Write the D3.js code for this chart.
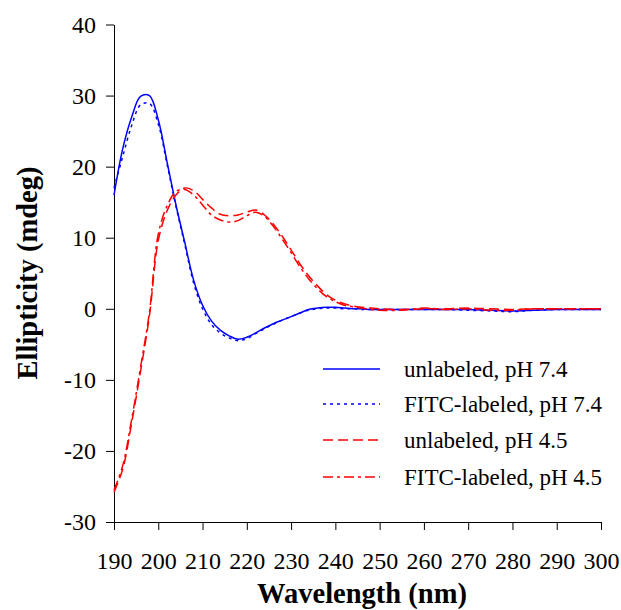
<!DOCTYPE html>
<html>
<head>
<meta charset="utf-8">
<script src="https://cdn.jsdelivr.net/npm/d3@7"></script>
<style>
  body { margin: 0; background: #fff; }
  text { font-family: "Liberation Serif", "Times New Roman", serif; }
</style>
</head>
<body>
<svg id="chart"></svg>
<script>
// wavelengths (nm)
var wavelengths = [190, 192, 194, 196, 198, 200, 202, 204, 206, 208, 210, 212, 214, 216, 218, 220,
  222, 224, 226, 228, 230, 232, 234, 236, 238, 240, 242, 244, 246, 248, 250,
  255, 260, 265, 270, 275, 280, 285, 290, 295, 300]

// ellipticity (mdeg) for each series
var unlabeled74 = [16.0, 22.6, 27.0, 29.9, 30.0, 26.6, 20.6, 14.6, 9.3, 4.0, 0.5, -1.7, -3.0, -3.8, -4.3, -4.0,
  -3.4, -2.7, -2.1, -1.6, -1.1, -0.6, -0.1, 0.1, 0.2, 0.2, 0.1, 0.0, 0.0, -0.1, -0.1,
  -0.1, -0.1, -0.1, -0.1, -0.2, -0.3, -0.2, -0.1, -0.1, -0.1]
var fitc74 = [17.0, 21.5, 25.8, 28.7, 28.9, 26.0, 20.3, 14.4, 9.0, 3.6, 0.0, -2.2, -3.4, -4.1, -4.5, -4.2,
  -3.5, -2.8, -2.2, -1.6, -1.1, -0.6, -0.2, 0.0, 0.1, 0.1, 0.0, 0.0, -0.1, -0.1, -0.1,
  -0.1, -0.1, -0.1, -0.2, -0.3, -0.4, -0.2, -0.1, -0.1, -0.1]
var unlabeled45 = [-25.8, -22.5, -16.0, -8.8, -1.0, 9.6, 13.8, 16.0, 17.0, 16.6, 15.4, 14.2, 13.3, 13.1, 13.2, 13.6,
  13.9, 13.2, 11.9, 10.2, 8.3, 6.3, 4.6, 3.2, 2.0, 1.2, 0.7, 0.4, 0.2, 0.1, 0.0,
  -0.1, 0.0, 0.0, 0.1, 0.0, -0.1, 0.0, 0.0, 0.0, 0.0]
var fitc45 = [-25.5, -22.0, -15.5, -8.2, -0.5, 10.5, 14.5, 16.5, 16.8, 16.0, 14.6, 13.2, 12.5, 12.2, 12.4, 13.1,
  13.6, 13.0, 11.6, 9.8, 7.9, 5.9, 4.2, 2.8, 1.7, 1.0, 0.5, 0.3, 0.1, -0.1, -0.2,
  -0.2, 0.1, -0.1, 0.0, -0.2, -0.2, 0.0, 0.0, 0.0, 0.0]

var seriesNames = ['unlabeled, pH 7.4', 'FITC-labeled, pH 7.4', 'unlabeled, pH 4.5', 'FITC-labeled, pH 4.5']
var seriesValues = [unlabeled74, fitc74, unlabeled45, fitc45]
var seriesColors = ['#0000ff', '#0000ff', '#ff0000', '#ff0000']
var seriesDash = [null, '3,4', '10,5', '10,4,3,4']

var xTicks = [190, 200, 210, 220, 230, 240, 250, 260, 270, 280, 290, 300]
var yTicks = [-30, -20, -10, 0, 10, 20, 30, 40]

var width = 621, height = 610
var margin = {left: 114, top: 24.5, right: 20, bottom: 88}

var svg = d3.select('#chart')
    .attr('width', width)
    .attr('height', height)

var x = d3.scaleLinear().domain([190, 300]).range([margin.left, width - margin.right])
var y = d3.scaleLinear().domain([-30, 40]).range([height - margin.bottom, margin.top])

var plainNum = function(d) { return String(d) } // keep hyphen minus like the original

// axes
svg.append('g')
    .attr('transform', 'translate(0,' + y(-30) + ')')
    .call(d3.axisBottom(x).tickValues(xTicks).tickFormat(plainNum).tickSize(8).tickPadding(22).tickSizeOuter(0))
    .attr('font-family', '"Liberation Serif", serif')
    .attr('font-size', 24)
svg.append('g')
    .attr('transform', 'translate(' + x(190) + ',0)')
    .call(d3.axisLeft(y).tickValues(yTicks).tickFormat(plainNum).tickSize(8).tickPadding(10).tickSizeOuter(0))
    .attr('font-family', '"Liberation Serif", serif')
    .attr('font-size', 24)

svg.selectAll('.tick text').attr('fill', '#000')
svg.selectAll('.domain, .tick line').attr('stroke', '#000')

// lines
var line = d3.line()
    .x(function(d) { return x(d[0]) })
    .y(function(d) { return y(d[1]) })
    .curve(d3.curveCatmullRom)

seriesValues.forEach(function(vals, i) {
    var pts = wavelengths.map(function(w, j) { return [w, vals[j]] })
    svg.append('path')
        .datum(pts)
        .attr('d', line)
        .attr('fill', 'none')
        .attr('stroke', seriesColors[i])
        .attr('stroke-width', 1.5)
        .attr('stroke-dasharray', seriesDash[i])
})

// legend
var legendY = [369, 404, 440, 477]
var legend = svg.selectAll('.legend')
    .data(seriesNames)
    .enter()
    .append('g')
    .attr('transform', function(d, i) { return 'translate(323,' + legendY[i] + ')' })

legend.append('line')
    .attr('x1', 0).attr('x2', 57)
    .attr('y1', 0).attr('y2', 0)
    .attr('stroke', function(d, i) { return seriesColors[i] })
    .attr('stroke-width', 1.5)
    .attr('stroke-dasharray', function(d, i) { return seriesDash[i] })

legend.append('text')
    .attr('x', 81)
    .attr('y', 8)
    .style('font-size', '23px')
    .text(function(d) { return d })

// axis titles
svg.append('text')
    .attr('x', 362)
    .attr('y', 603)
    .attr('text-anchor', 'middle')
    .style('font-size', '28.5px')
    .style('font-weight', 'bold')
    .text('Wavelength (nm)')

svg.append('text')
    .attr('transform', 'translate(37,273) rotate(-90)')
    .attr('text-anchor', 'middle')
    .style('font-size', '28.5px')
    .style('font-weight', 'bold')
    .text('Ellipticity (mdeg)')
</script>
</body>
</html>
